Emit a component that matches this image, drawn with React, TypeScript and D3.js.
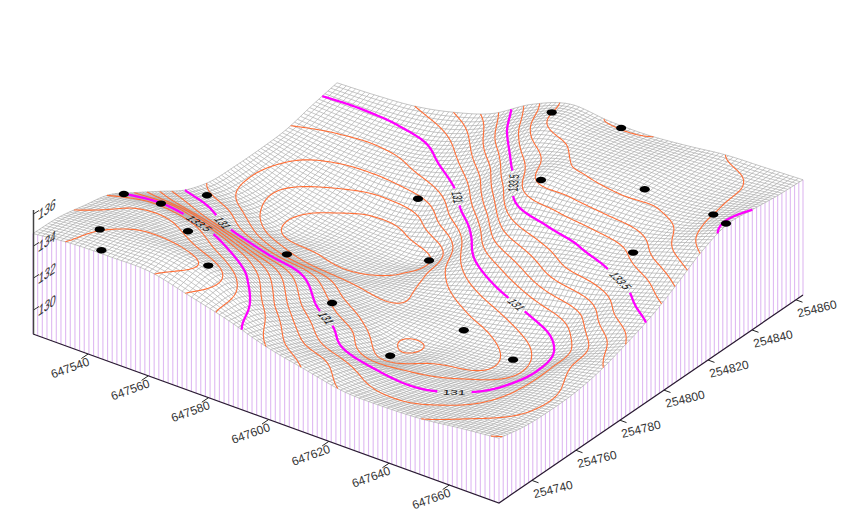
import React, { useMemo } from "react";
import * as d3 from "d3";

const WIDTH = 847;
const HEIGHT = 527;

// Map extents (metres) and elevation axis
const eastingDomain = [647521.7, 647676.5];
const northingDomain = [254725, 254863.2];
const elevationDomain = [128.5, 136];
const eastingTicks = [647540, 647560, 647580, 647600, 647620, 647640, 647660];
const northingTicks = [254740, 254760, 254780, 254800, 254820, 254840, 254860];
const elevationTicks = [130, 132, 134, 136];

// Elevation: rows run along easting, columns along northing
const elevationRows = [
  [134.78, 134.7, 134.35, 133.95, 133.0, 132.0, 131.0, 130.45, 130.35, 130.35, 130.45, 130.85, 131.2],
  [135.03, 134.95, 134.65, 134.25, 133.05, 131.55, 130.65, 129.75, 129.48, 129.8, 130.25, 130.75, 131.3],
  [135.08, 135.15, 134.75, 134.1, 132.6, 131.05, 129.85, 128.9, 128.95, 129.45, 130.15, 130.75, 131.5],
  [135.05, 135.22, 134.4, 133.45, 132.0, 130.6, 129.4, 128.85, 128.75, 129.15, 130.3, 131.0, 132.0],
  [134.45, 134.72, 133.75, 132.65, 131.5, 130.35, 129.25, 128.8, 128.7, 129.4, 130.8, 131.9, 132.8],
  [133.8, 133.4, 132.4, 131.45, 130.55, 129.75, 129.35, 129.05, 128.98, 130.75, 132.05, 133.45, 134.25],
  [133.0, 132.3, 131.5, 130.8, 129.95, 129.6, 129.55, 129.95, 130.85, 132.5, 133.85, 134.95, 135.15],
  [132.45, 131.9, 131.0, 129.95, 129.45, 129.7, 129.95, 131.0, 132.7, 134.4, 134.85, 135.15, 134.98],
  [131.95, 131.45, 130.85, 130.2, 129.8, 129.75, 130.45, 131.95, 133.4, 134.6, 135.15, 135.2, 134.98],
  [131.9, 131.35, 130.9, 130.45, 129.95, 130.15, 131.1, 132.85, 133.7, 134.75, 135.25, 135.3, 135.2],
  [132.0, 131.6, 131.2, 130.85, 130.55, 130.85, 131.75, 133.2, 134.0, 134.85, 135.15, 135.35, 135.5],
  [132.3, 131.95, 131.75, 131.7, 131.8, 131.95, 132.95, 133.75, 134.8, 135.2, 135.4, 135.48, 135.6],
  [132.55, 132.2, 132.1, 132.15, 132.45, 133.0, 133.65, 134.55, 135.55, 136.15, 136.0, 135.8, 135.7],
];

// Contour levels
const minorLevels = [129, 129.5, 130, 130.5, 131.5, 132, 132.5, 133, 134, 134.5, 135, 135.5];
const majorLevels = [131, 133.5, 136];

// Sample points (wells)
const wellEastings = [647522.8, 647534.1, 647526.3, 647535.9, 647552.5, 647543.4, 647570.2, 647557.9, 647586.7, 647569.5, 647586.7, 647612.3, 647620.6, 647642.6, 647596.9, 647616.9, 647614.1, 647642.4, 647667.1, 647675.7, 647654.7];
const wellNorthings = [254764.8, 254766.2, 254797.8, 254735.9, 254753.3, 254726.4, 254738.3, 254790.9, 254772.0, 254834.6, 254816.1, 254763.4, 254785.5, 254777.8, 254857.9, 254862.1, 254829.5, 254837.9, 254835.3, 254829.3, 254815.8];

// Contour labels
const labelLevels = [131, 133.5, 131, 131, 131, 131, 133.5, 133.5];
const labelEastings = [647540.3, 647548, 647593, 647645.5, 647630, 647583.6, 647602, 647658];
const labelNorthings = [254786, 254764, 254761, 254747, 254797, 254834, 254831, 254806.5];

// Layout
const CORNER_LEFT: [number, number] = [33, 334];
const CORNER_FRONT: [number, number] = [499, 503];
const CORNER_RIGHT: [number, number] = [803, 295];
const Z_TOP_Y = 214;
const MESH_U = 100;
const MESH_V = 100;
const SKIRT_V = 72;
const CONTOUR_N = 241;

const uScale = d3.scaleLinear().domain(eastingDomain).range([0, 1]);
const vScale = d3.scaleLinear().domain(northingDomain).range([0, 1]);
const zScale = d3.scaleLinear().domain(elevationDomain).range([0, CORNER_LEFT[1] - Z_TOP_Y]);

function project(u: number, v: number, z: number): [number, number] {
  const x = CORNER_LEFT[0] + u * (CORNER_FRONT[0] - CORNER_LEFT[0]) + v * (CORNER_RIGHT[0] - CORNER_FRONT[0]);
  const y = CORNER_LEFT[1] + u * (CORNER_FRONT[1] - CORNER_LEFT[1]) + v * (CORNER_RIGHT[1] - CORNER_FRONT[1]);
  return [x, y - zScale(z)];
}

function cr(p0: number, p1: number, p2: number, p3: number, t: number) {
  return 0.5 * (2 * p1 + (p2 - p0) * t + (2 * p0 - 5 * p1 + 4 * p2 - p3) * t * t + (3 * p1 - p0 - 3 * p2 + p3) * t * t * t);
}

function surface(u: number, v: number): number {
  const n = elevationRows.length - 1;
  const m = elevationRows[0].length - 1;
  const fu = Math.min(Math.max(u, 0), 1) * n;
  const fv = Math.min(Math.max(v, 0), 1) * m;
  const i = Math.min(Math.floor(fu), n - 1);
  const j = Math.min(Math.floor(fv), m - 1);
  const tu = fu - i;
  const tv = fv - j;
  const at = (a: number, b: number) => {
    const ca = Math.max(0, Math.min(n, a));
    const cb = Math.max(0, Math.min(m, b));
    let val = elevationRows[ca][cb];
    if (a < 0) val += elevationRows[0][cb] - elevationRows[1][cb];
    if (a > n) val += elevationRows[n][cb] - elevationRows[n - 1][cb];
    if (b < 0) val += elevationRows[ca][0] - elevationRows[ca][1];
    if (b > m) val += elevationRows[ca][m] - elevationRows[ca][m - 1];
    return val;
  };
  const rows = [-1, 0, 1, 2].map((di) =>
    cr(at(i + di, j - 1), at(i + di, j), at(i + di, j + 1), at(i + di, j + 2), tv)
  );
  return cr(rows[0], rows[1], rows[2], rows[3], tu);
}

type P = [number, number];
const METRES_E = eastingDomain[1] - eastingDomain[0];
const METRES_N = northingDomain[1] - northingDomain[0];

function contourLines(values: number[], level: number): P[][] {
  const n = CONTOUR_N;
  const geom = d3.contours().size([n, n]).thresholds([level])(values)[0];
  const lines: P[][] = [];
  const eps = 1e-6;
  geom.coordinates.forEach((poly: number[][][]) => {
    poly.forEach((ring) => {
      const pts = ring.slice(0, -1);
      const ok = pts.map(
        ([x, y]) => x >= 0.5 - eps && x <= n - 0.5 + eps && y >= 0.5 - eps && y <= n - 0.5 + eps
      );
      const toUV = ([x, y]: number[]): P => [(x - 0.5) / (n - 1), (y - 0.5) / (n - 1)];
      const firstBad = ok.indexOf(false);
      if (firstBad < 0) {
        lines.push(ring.map(toUV));
        return;
      }
      let cur: P[] = [];
      for (let k = 0; k < pts.length; k++) {
        const idx = (firstBad + k) % pts.length;
        if (ok[idx]) cur.push(toUV(pts[idx]));
        else {
          if (cur.length > 1) lines.push(cur);
          cur = [];
        }
      }
      if (cur.length > 1) lines.push(cur);
    });
  });
  return lines;
}

const planDist = (a: P, b: P) =>
  Math.hypot((a[0] - b[0]) * METRES_E, (a[1] - b[1]) * METRES_N);

const lineGen = d3.line<P>().x((d) => d[0]).y((d) => d[1]).curve(d3.curveLinear);

export default function App() {
  const model = useMemo(() => {
    const values: number[] = [];
    for (let y = 0; y < CONTOUR_N; y++)
      for (let x = 0; x < CONTOUR_N; x++)
        values.push(surface(x / (CONTOUR_N - 1), y / (CONTOUR_N - 1)));

    let mesh = "";
    for (let i = 0; i <= MESH_U; i++) {
      const pts: P[] = d3.range(MESH_V + 1).map((j) => {
        const u = i / MESH_U, v = j / MESH_V;
        return project(u, v, surface(u, v));
      });
      mesh += lineGen(pts);
    }
    for (let j = 0; j <= MESH_V; j++) {
      const pts: P[] = d3.range(MESH_U + 1).map((i) => {
        const u = i / MESH_U, v = j / MESH_V;
        return project(u, v, surface(u, v));
      });
      mesh += lineGen(pts);
    }

    const outline: P[] = [];
    for (let i = 0; i <= MESH_U; i++) outline.push(project(i / MESH_U, 0, surface(i / MESH_U, 0)));
    for (let j = 0; j <= MESH_V; j++) outline.push(project(1, j / MESH_V, surface(1, j / MESH_V)));
    for (let i = MESH_U; i >= 0; i--) outline.push(project(i / MESH_U, 1, surface(i / MESH_U, 1)));
    for (let j = MESH_V; j >= 0; j--) outline.push(project(0, j / MESH_V, surface(0, j / MESH_V)));

    let skirt = "";
    for (let i = 0; i <= MESH_U; i++) {
      const u = i / MESH_U;
      skirt += lineGen([project(u, 0, surface(u, 0)), project(u, 0, elevationDomain[0])]);
    }
    for (let j = 0; j <= SKIRT_V; j++) {
      const v = j / SKIRT_V;
      skirt += lineGen([project(1, v, surface(1, v)), project(1, v, elevationDomain[0])]);
    }

    let minor = "";
    minorLevels.forEach((lv) => {
      contourLines(values, lv).forEach((l) => {
        minor += lineGen(l.map((p) => project(p[0], p[1], lv)));
      });
    });

    const labelInfo = labelLevels.map((lv, k) => {
      const target: P = [uScale(labelEastings[k]), vScale(labelNorthings[k])];
      let best = Infinity;
      let bestPt: P = target;
      let tan: P = [1, 0];
      contourLines(values, lv).forEach((l) => {
        l.forEach((p, idx) => {
          const d = planDist(p, target);
          if (d < best) {
            best = d;
            bestPt = p;
            const a = l[Math.max(0, idx - 4)];
            const b = l[Math.min(l.length - 1, idx + 4)];
            tan = [(b[0] - a[0]) * METRES_E, (b[1] - a[1]) * METRES_N];
          }
        });
      });
      const len = Math.hypot(tan[0], tan[1]) || 1;
      let t: P = [tan[0] / len, tan[1] / len];
      const vecE = [
        (CORNER_FRONT[0] - CORNER_LEFT[0]) / METRES_E,
        (CORNER_FRONT[1] - CORNER_LEFT[1]) / METRES_E,
      ];
      const vecN = [
        (CORNER_RIGHT[0] - CORNER_FRONT[0]) / METRES_N,
        (CORNER_RIGHT[1] - CORNER_FRONT[1]) / METRES_N,
      ];
      const sx = t[0] * vecE[0] + t[1] * vecN[0];
      if (sx < 0) t = [-t[0], -t[1]];
      const down: P = [t[1], -t[0]];
      const s = 0.37;
      const a = s * (t[0] * vecE[0] + t[1] * vecN[0]);
      const b = s * (t[0] * vecE[1] + t[1] * vecN[1]);
      const c = s * (down[0] * vecE[0] + down[1] * vecN[0]);
      const d = s * (down[0] * vecE[1] + down[1] * vecN[1]);
      const [ex, ey] = project(bestPt[0], bestPt[1], lv);
      return {
        lv,
        text: String(lv),
        center: bestPt,
        radius: String(lv).length * 1.15 + 0.7,
        matrix: `matrix(${a},${b},${c},${d},${ex},${ey})`,
      };
    });

    let major = "";
    majorLevels.forEach((lv) => {
      contourLines(values, lv).forEach((l) => {
        let cur: P[] = [];
        l.forEach((p) => {
          const hit = labelInfo.some((li) => li.lv === lv && planDist(p, li.center) < li.radius);
          if (hit) {
            if (cur.length > 1) major += lineGen(cur.map((q) => project(q[0], q[1], lv)));
            cur = [];
          } else cur.push(p);
        });
        if (cur.length > 1) major += lineGen(cur.map((q) => project(q[0], q[1], lv)));
      });
    });

    const wells = wellEastings.map((e, k) => {
      const u = uScale(e), v = vScale(wellNorthings[k]);
      return project(u, v, surface(u, v));
    });

    return { mesh, outline, skirt, minor, major, labelInfo, wells };
  }, []);

  const base = elevationDomain[0];
  const eTicks = eastingTicks.map((e) => {
    const u = uScale(e);
    return { e, p: project(u, 0, base), q: project(u, -0.022, base) };
  });
  const nTicks = northingTicks.map((n) => {
    const v = vScale(n);
    return { n, p: project(1, v, base), q: project(1.014, v, base) };
  });

  return (
    <svg
      width={WIDTH}
      height={HEIGHT}
      viewBox={`0 0 ${WIDTH} ${HEIGHT}`}
      style={{ position: "absolute", left: 0, top: 0, background: "#fff" }}
      fontFamily="'Liberation Sans', Arial, sans-serif"
    >
      <path d={model.skirt} fill="none" stroke="#e0bcf2" strokeWidth={1.15} />
      <polygon points={model.outline.map((p) => p.join(",")).join(" ")} fill="#fff" stroke="none" />
      <path d={model.mesh} fill="none" stroke="#a0a0a0" strokeWidth={0.6} />
      <path d={model.minor} fill="none" stroke="#ff6e36" strokeWidth={1.1} />
      <path d={model.major} fill="none" stroke="#ff00ff" strokeWidth={2.3} />

      {model.labelInfo.map((l, i) => (
        <text
          key={i}
          transform={l.matrix}
          fontSize={10}
          textAnchor="middle"
          dominantBaseline="central"
          fill="#111"
        >
          {l.text}
        </text>
      ))}

      {model.wells.map((p, i) => (
        <ellipse key={i} cx={p[0]} cy={p[1]} rx={5.1} ry={3.2} fill="#000" />
      ))}

      <path
        d={lineGen([CORNER_LEFT, CORNER_FRONT, CORNER_RIGHT]) as string}
        fill="none"
        stroke="#2a1a33"
        strokeWidth={1.2}
      />
      <line x1={33.5} y1={CORNER_LEFT[1]} x2={33.5} y2={Z_TOP_Y - 4} stroke="#444" strokeWidth={1.5} />

      {eTicks.map((t) => (
        <g key={t.e}>
          <line x1={t.p[0]} y1={t.p[1]} x2={t.q[0]} y2={t.q[1]} stroke="#222" strokeWidth={1} />
          <text
            transform={`translate(${t.p[0] - 18},${t.p[1] + 14}) rotate(-20)`}
            fontSize={12}
            textAnchor="middle"
            dominantBaseline="central"
            fill="#333"
          >
            {t.e}
          </text>
        </g>
      ))}
      {nTicks.map((t) => (
        <g key={t.n}>
          <line x1={t.p[0]} y1={t.p[1]} x2={t.q[0]} y2={t.q[1]} stroke="#222" strokeWidth={1} />
          <text
            transform={`translate(${t.p[0] + 21},${t.p[1] + 9}) rotate(-14)`}
            fontSize={12}
            textAnchor="middle"
            dominantBaseline="central"
            fill="#333"
          >
            {t.n}
          </text>
        </g>
      ))}
      {elevationTicks.map((z) => {
        const y = CORNER_LEFT[1] - zScale(z);
        return (
          <g key={z}>
            <line x1={33.5} y1={y} x2={39} y2={y - 3.5} stroke="#333" strokeWidth={1} />
            <text
              transform={`matrix(0.8,-0.55,-0.15,1.2,47,${y - 5})`}
              fontSize={13}
              textAnchor="middle"
              dominantBaseline="central"
              fill="#333"
            >
              {z}
            </text>
          </g>
        );
      })}
    </svg>
  );
}
